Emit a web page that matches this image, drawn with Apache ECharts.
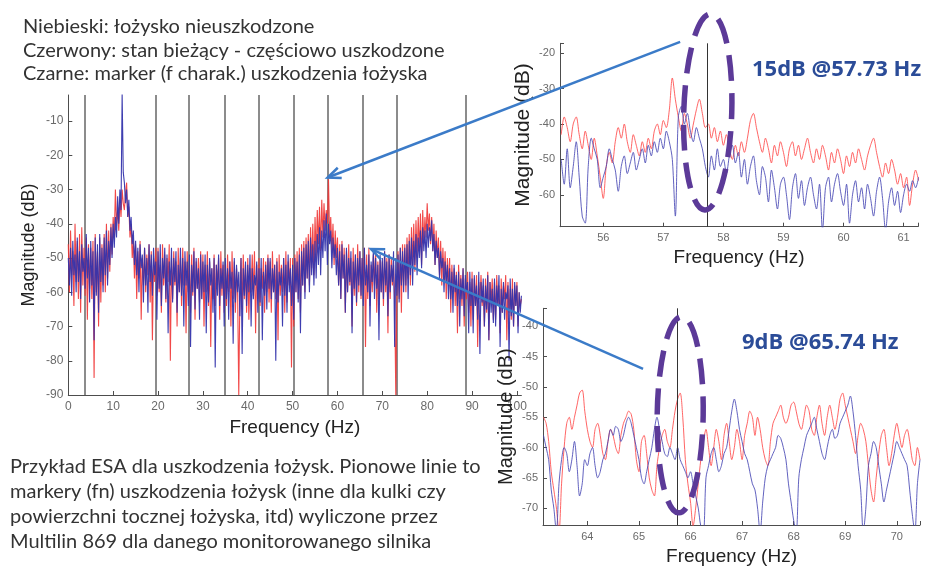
<!DOCTYPE html>
<html>
<head>
<meta charset="utf-8">
<script src="https://cdn.jsdelivr.net/npm/echarts@6/dist/echarts.min.js"></script>
<style>
  html, body { margin: 0; padding: 0; background: #ffffff; }
  #c { width: 925px; height: 568px; }
</style>
</head>
<body>
<div id="c"></div>
<script>
// ---- Spectrum, 0 .. 101 Hz, 0.25 Hz bins (one row = 5 Hz) ----
const MAIN_F0 = 0, MAIN_DF = 0.25;
// healthy bearing (blue)
const mainBlue = [
  -50,-58,-47,-61,-45,-55,-49,-60,-44,-57,-48,-62,-46,-54,-50,-59,-43,-56,-47,-63,
  -45,-58,-48,-74,-44,-61,-46,-66,-43,-57,-47,-60,-44,-55,-42,-58,-45,-52,-41,-50,
  -40,-47,-38,-44,-32,-40,-30,-36,-2,-25,-28,-34,-30,-38,-33,-42,-38,-46,-42,-52,
  -45,-55,-47,-60,-46,-53,-49,-63,-47,-58,-50,-66,-46,-57,-49,-61,-47,-55,-51,-68,
  -48,-59,-46,-64,-50,-56,-47,-62,-49,-72,-51,-58,-47,-63,-50,-57,-48,-66,-52,-60,
  -47,-61,-50,-70,-48,-58,-51,-64,-49,-76,-52,-60,-48,-65,-50,-59,-53,-68,-49,-62,
  -51,-60,-49,-72,-52,-63,-50,-58,-53,-66,-50,-82,-52,-61,-49,-64,-53,-59,-51,-70,
  -50,-62,-53,-68,-51,-59,-54,-75,-50,-63,-52,-60,-54,-67,-50,-78,-53,-61,-51,-64,
  -52,-60,-49,-70,-53,-62,-55,-58,-51,-66,-53,-63,-50,-74,-54,-61,-52,-65,-50,-59,
  -50,-62,-53,-60,-52,-80,-51,-63,-54,-58,-53,-70,-50,-61,-52,-66,-49,-60,-53,-64,
  -52,-68,-50,-60,-51,-63,-49,-72,-48,-58,-47,-62,-46,-56,-45,-60,-44,-55,-46,-58,
  -45,-56,-43,-52,-41,-55,-42,-50,-39,-48,-37,-52,-40,-46,-42,-53,-44,-50,-46,-55,
  -47,-58,-48,-62,-46,-56,-49,-66,-47,-60,-50,-57,-48,-72,-51,-59,-49,-63,-50,-58,
  -48,-61,-50,-64,-47,-58,-52,-60,-49,-70,-51,-57,-48,-62,-50,-59,-52,-74,-49,-60,
  -50,-62,-48,-58,-51,-67,-49,-60,-52,-57,-48,-76,-50,-61,-49,-63,-47,-58,-48,-60,
  -47,-58,-46,-62,-45,-55,-44,-58,-45,-52,-43,-55,-44,-50,-42,-53,-41,-48,-42,-50,
  -40,-47,-41,-45,-39,-48,-43,-52,-45,-50,-47,-56,-48,-53,-50,-60,-51,-57,-52,-62,
  -53,-62,-54,-66,-52,-60,-55,-64,-54,-70,-56,-62,-53,-67,-55,-60,-57,-72,-54,-64,
  -56,-72,-55,-64,-58,-68,-54,-78,-57,-63,-56,-70,-58,-65,-55,-74,-57,-66,-59,-69,
  -56,-70,-58,-64,-55,-76,-59,-66,-57,-68,-60,-62,-58,-80,-56,-67,-59,-70,-57,-64,
  -58,-72,-60,-66,-61
];
// current state, partially damaged (red)
const mainRed = [
  -46,-60,-42,-55,-48,-64,-40,-57,-45,-62,-43,-66,-41,-58,-47,-61,-44,-68,-46,-59,
  -47,-62,-45,-85,-43,-60,-48,-70,-44,-63,-46,-58,-43,-60,-40,-56,-42,-54,-40,-49,
  -38,-44,-30,-40,-36,-42,-33,-38,-30,-34,-36,-31,-28,-38,-35,-44,-40,-50,-45,-56,
  -46,-62,-48,-56,-45,-68,-50,-58,-47,-60,-49,-55,-46,-63,-48,-74,-50,-57,-47,-61,
  -47,-60,-52,-66,-46,-58,-49,-63,-50,-57,-46,-80,-50,-62,-48,-58,-51,-70,-47,-60,
  -50,-64,-47,-58,-51,-72,-48,-60,-52,-66,-49,-61,-47,-68,-51,-59,-50,-63,-48,-62,
  -49,-70,-52,-60,-48,-64,-51,-76,-53,-62,-49,-64,-52,-58,-50,-68,-48,-61,-52,-66,
  -52,-64,-49,-60,-51,-70,-48,-62,-51,-66,-53,-61,-90,-60,-50,-65,-49,-62,-52,-66,
  -50,-68,-53,-60,-49,-61,-48,-72,-52,-62,-50,-64,-53,-59,-50,-66,-51,-60,-49,-63,
  -51,-66,-48,-60,-52,-62,-50,-74,-49,-61,-52,-60,-50,-66,-48,-63,-51,-58,-50,-82,
  -50,-70,-49,-60,-48,-62,-47,-66,-46,-58,-45,-60,-44,-56,-43,-58,-41,-53,-40,-55,
  -38,-50,-36,-46,-35,-48,-33,-44,-34,-42,-36,-40,-27,-44,-38,-48,-40,-52,-42,-50,
  -44,-58,-46,-62,-45,-56,-47,-66,-48,-60,-46,-58,-50,-70,-47,-61,-49,-64,-46,-60,
  -48,-62,-50,-58,-47,-76,-49,-62,-47,-64,-52,-60,-49,-58,-48,-66,-51,-62,-50,-60,
  -51,-64,-48,-60,-50,-72,-49,-62,-50,-58,-52,-62,-90,-60,-48,-62,-47,-66,-46,-58,
  -46,-60,-44,-56,-43,-58,-41,-52,-40,-54,-39,-50,-38,-48,-37,-52,-36,-46,-38,-44,
  -34,-42,-37,-46,-38,-48,-40,-52,-42,-50,-44,-55,-45,-58,-47,-56,-48,-62,-50,-58,
  -50,-66,-52,-60,-53,-64,-54,-72,-52,-62,-55,-64,-53,-70,-56,-62,-54,-66,-57,-70,
  -54,-68,-56,-64,-55,-76,-57,-62,-55,-64,-58,-70,-56,-66,-54,-74,-57,-63,-56,-68,
  -57,-68,-55,-64,-58,-72,-56,-66,-58,-62,-55,-74,-57,-66,-59,-68,-56,-70,-58,-64,
  -57,-70,-60,-64,-62
];
// bearing fault marker frequencies (Hz)
const faultMarkers = [3.7, 19.5, 26.9, 34.9, 42.4, 50.3, 57.73, 65.74, 73.2, 88.7];
// tick values of the overview axes
const mainFreqTicks = [0, 10, 20, 30, 40, 50, 60, 70, 80, 90, 100];
const mainDbTicks = [-90, -80, -70, -60, -50, -40, -30, -20, -10];

// ---- Zoom around 57.73 Hz, 0.05 Hz bins ----
const Z1_F0 = 55.30, Z1_DF = 0.05;
const zoom1Blue = [
  -50,-57,-47,-58,-52,-45,-55,-66,-68,-52,
  -44,-47,-50,-58,-55,-52,-47,-50,-53,-59,
  -52,-49,-54,-51,-48,-53,-50,-47,-51,-46,
  -49,-45,-48,-44,-47,-42,-45,-50,-66,-38,
  -35,-40,-37,-42,-45,-41,-44,-47,-52,-55,
  -49,-53,-47,-52,-50,-54,-49,-46,-51,-48,
  -55,-50,-57,-52,-49,-56,-60,-52,-55,-62,
  -53,-58,-64,-57,-55,-60,-67,-58,-54,-61,
  -56,-63,-58,-55,-60,-64,-57,-70,-58,-55,
  -62,-57,-54,-59,-63,-57,-68,-60,-56,-62,
  -58,-64,-57,-61,-66,-59,-55,-61,-70,-62,
  -58,-63,-59,-65,-60,-57,-59,-56,-58,-55
];
const zoom1Red = [
  -43,-38,-41,-45,-40,-38,-43,-47,-42,-46,
  -50,-44,-49,-55,-61,-52,-48,-51,-45,-41,
  -44,-40,-45,-48,-43,-46,-49,-45,-48,-44,
  -47,-42,-40,-43,-39,-41,-36,-27,-33,-38,
  -42,-37,-40,-44,-40,-36,-33,-37,-41,-40,
  -44,-41,-45,-42,-46,-43,-47,-50,-46,-49,
  -45,-48,-44,-39,-37,-41,-45,-48,-44,-47,
  -51,-46,-49,-45,-48,-52,-47,-45,-49,-46,
  -50,-47,-44,-48,-51,-47,-50,-46,-49,-53,
  -48,-51,-47,-50,-54,-49,-52,-48,-51,-47,
  -50,-53,-49,-46,-44,-48,-52,-55,-51,-54,
  -50,-53,-57,-54,-58,-55,-63,-57,-53,-56
];

// ---- Zoom around 65.74 Hz, 0.05 Hz bins ----
const Z2_F0 = 63.15, Z2_DF = 0.05;
const zoom2Blue = [
  -58,-60,-62,-67,-70,-74,-66,-62,-60,-61,
  -64,-62,-59,-63,-68,-66,-62,-63,-61,-60,
  -63,-65,-64,-62,-61,-59,-57,-58,-56.5,-57,
  -59,-58,-56,-55,-56,-58,-60,-62,-65,-66,
  -64,-62,-60,-57,-55,-57,-59,-61,-61.5,-60,
  -61,-62,-60,-62,-63,-64,-65,-64,-66,-68,
  -70,-73,-74,-65,-63,-61,-60,-62,-64,-63,
  -61,-60,-57,-54,-52,-54,-57,-59,-61,-62,
  -64,-66,-67,-70,-74,-69,-65,-63,-62,-61,
  -60,-58,-58.5,-60,-62,-66,-69,-72,-74,-65,
  -62,-60,-58,-57,-56,-55,-57,-59,-61,-62,
  -60,-58,-57,-58.5,-58,-56,-55,-54,-53,-51.5,
  -54,-58,-63,-67,-74,-70,-63,-61,-59,-60,
  -63,-66,-69,-67,-65,-63,-61,-59,-60,-61,
  -62,-63,-67,-71,-74,-66,-62
];
const zoom2Red = [
  -55,-56,-59,-64,-67,-70,-74,-66,-60,-56,
  -55,-57,-55,-53,-51,-50.5,-54,-57,-59,-60,
  -57,-56,-58,-61,-62,-59,-57,-58,-60,-61,
  -58,-56,-55,-54,-54.5,-57,-62,-64,-59,-58,
  -61,-65,-67,-68,-63,-60,-58,-57,-59,-60,
  -57,-54,-52,-51,-55,-62,-66,-69,-73,-70,
  -66,-62,-59,-57,-60,-63,-60,-57,-59,-62,
  -58,-56,-59,-62,-60,-57,-59,-62,-58,-56,
  -54,-55,-58,-55,-57,-60,-62,-63,-59,-56,
  -55,-54,-53,-55,-56,-55,-53,-52.5,-54,-56,
  -57,-55,-53,-54,-57,-58,-55,-53,-56,-58,
  -55,-53,-55,-57,-55,-52,-51,-53,-55,-57,
  -59,-61,-58,-56,-57,-59,-63,-67,-69,-65,
  -61,-58,-57,-60,-63,-61,-58,-56,-58,-60,
  -58,-57,-59,-62,-63,-60,-62
];

// ---- Texts ----
const legendLines = [
  'Niebieski: łożysko nieuszkodzone',
  'Czerwony: stan bieżący - częściowo uszkodzone',
  'Czarne: marker (f charak.) uszkodzenia łożyska'
];
const captionLines = [
  'Przykład ESA dla uszkodzenia łożysk. Pionowe linie to',
  'markery (fn) uszkodzenia łożysk (inne dla kulki czy',
  'powierzchni tocznej łożyska, itd) wyliczone przez',
  'Multilin 869 dla danego monitorowanego silnika'
];
const zoom1Note = '15dB @57.73 Hz';
const zoom2Note = '9dB @65.74 Hz';
const magTitle = 'Magnitude (dB)';

const RED = '#f03434';
const BLUE = '#3434ac';
const AXIS_FONT = '"Liberation Sans", Arial, sans-serif';

const toPairs = (vals, f0, df) => vals.map((v, i) => [+(f0 + i * df).toFixed(3), v]);
// only label whole steps, leave the axis ends blank
const stepLabel = step => v => (Math.abs(v / step - Math.round(v / step)) < 1e-6 ? String(Math.round(v)) : '');

function axisCfg(kind, grid, min, max, extra, nameGap, nameSize, labelSize, step) {
  const cfg = {
    type: 'value', gridIndex: grid, min, max,
    name: extra.noName ? '' : (kind === 'x' ? 'Frequency (Hz)' : magTitle),
    nameLocation: 'middle', nameGap,
    nameTextStyle: { color: '#222', fontSize: nameSize, fontFamily: AXIS_FONT },
    axisLine: { show: true, onZero: false, lineStyle: { color: '#4d4d4d', width: 1 } },
    axisTick: { show: true, inside: true, length: 4, lineStyle: { color: '#4d4d4d' } },
    axisLabel: {
      color: '#6a6a6a', fontSize: labelSize, fontFamily: AXIS_FONT,
      margin: kind === 'x' ? 6 : 5, hideOverlap: false, formatter: stepLabel(step)
    },
    splitLine: { show: false }
  };
  if (extra.ticks) {
    cfg.axisTick.customValues = extra.ticks;
    cfg.axisLabel.customValues = extra.ticks;
    cfg.axisLabel.showMinLabel = true;
    cfg.axisLabel.showMaxLabel = true;
  } else {
    cfg.splitNumber = extra.splitNumber;
  }
  return cfg;
}

function spectrum(name, data, xi, color, width, opacity, z, smooth) {
  return {
    type: 'line', name, xAxisIndex: xi, yAxisIndex: xi, data,
    symbol: 'none', smooth: smooth || false, z,
    lineStyle: { color, width, opacity },
    clip: true, silent: true
  };
}

const chart = echarts.init(document.getElementById('c'), null, { renderer: 'canvas' });

chart.setOption({
  animation: false,
  backgroundColor: '#ffffff',
  grid: [
    { left: 68.3, top: 95, width: 453.1, height: 300 },
    { left: 560, top: 43.3, width: 358, height: 183.4 },
    { left: 543, top: 308.3, width: 377, height: 216.7 }
  ],
  xAxis: [
    axisCfg('x', 0, 0, 101, { ticks: mainFreqTicks }, 20, 19, 12, 10),
    axisCfg('x', 1, 55.28, 61.24, { splitNumber: 5 }, 22, 19, 11, 1),
    axisCfg('x', 2, 63.14, 70.45, { splitNumber: 6 }, 22, 19, 11, 1)
  ],
  yAxis: [
    axisCfg('y', 0, -90, -2.4, { ticks: mainDbTicks }, 30, 18, 12, 10),
    axisCfg('y', 1, -69, -17.2, { splitNumber: 5 }, 26, 21, 11, 10),
    // its title sits over the overview's frequency labels, drawn separately below
    axisCfg('y', 2, -72.8, -37, { splitNumber: 7, noName: true }, 26, 20, 11, 5)
  ],
  series: [
    Object.assign(spectrum('mainRed', toPairs(mainRed, MAIN_F0, MAIN_DF), 0, RED, 1.1, 0.9, 2), {
      markLine: {
        silent: true, z: 1, symbol: ['none', 'none'], label: { show: false },
        lineStyle: { color: '#8c8c8c', width: 2, type: 'solid', opacity: 1 },
        data: faultMarkers.map(f => ({ xAxis: f }))
      }
    }),
    spectrum('mainBlue', toPairs(mainBlue, MAIN_F0, MAIN_DF), 0, BLUE, 1.1, 0.95, 3),
    Object.assign(spectrum('zoom1Red', toPairs(zoom1Red, Z1_F0, Z1_DF), 1, '#ff4a4a', 1, 0.85, 2, 0.3), {
      markLine: {
        silent: true, symbol: ['none', 'none'], label: { show: false },
        lineStyle: { color: '#333', width: 1, type: 'solid', opacity: 1 },
        data: [{ xAxis: 57.73 }]
      }
    }),
    spectrum('zoom1Blue', toPairs(zoom1Blue, Z1_F0, Z1_DF), 1, '#4646b4', 1, 0.85, 3, 0.3),
    Object.assign(spectrum('zoom2Red', toPairs(zoom2Red, Z2_F0, Z2_DF), 2, '#ff4a4a', 1, 0.85, 2, 0.3), {
      markLine: {
        silent: true, symbol: ['none', 'none'], label: { show: false },
        lineStyle: { color: '#333', width: 1, type: 'solid', opacity: 1 },
        data: [{ xAxis: 65.74 }]
      }
    }),
    spectrum('zoom2Blue', toPairs(zoom2Blue, Z2_F0, Z2_DF), 2, '#4646b4', 1, 0.85, 3, 0.3)
  ]
});

// ---- Annotations anchored to axis coordinates ----
const px = (grid, pt) => chart.convertToPixel({ gridIndex: grid }, pt);
const ARROW = '#3b7bc8';
const PURPLE = '#5c3a98';

function arrow(from, to) {
  const dx = to[0] - from[0], dy = to[1] - from[1];
  const len = Math.hypot(dx, dy), ux = dx / len, uy = dy / len;
  const hl = 13, hw = 5.5;
  const bx = to[0] - ux * hl, by = to[1] - uy * hl;
  return [
    { type: 'line', z: 50, shape: { x1: from[0], y1: from[1], x2: to[0], y2: to[1] },
      style: { stroke: ARROW, lineWidth: 2.5 } },
    { type: 'polyline', z: 50, shape: { points: [[bx - uy * hw, by + ux * hw], to, [bx + uy * hw, by - ux * hw]] },
      style: { stroke: ARROW, lineWidth: 2.5, fill: null } }
  ];
}
function ring(center, rx, ry, rot) {
  return {
    type: 'ellipse', z: 40, x: center[0], y: center[1], rotation: rot,
    shape: { cx: 0, cy: 0, rx, ry },
    style: { fill: null, stroke: PURPLE, lineWidth: 5.5, lineDash: [26, 12] }
  };
}
function textLine(str, x, y, font, fill, align) {
  return { type: 'text', z: 60, x, y, style: { text: str, font, fill, align: align || 'left', verticalAlign: 'middle' } };
}

const graphics = [];
const CAP_FONT = '20px Lato, "Open Sans", sans-serif';
legendLines.forEach((t, i) => graphics.push(textLine(t, 23, 27 + i * 23.5, CAP_FONT, '#333')));
captionLines.forEach((t, i) => graphics.push(textLine(t, 10, 467 + i * 24.7, CAP_FONT, '#333')));
graphics.push(textLine(zoom1Note, 752, 70, 'bold 22px "Open Sans", sans-serif', '#2b4c98'));
graphics.push(textLine(zoom2Note, 742, 343, 'bold 22px "Open Sans", sans-serif', '#2b4c98'));

// vertical title of the lower zoom panel
const z2Left = px(2, [63.14, -54.9]);
graphics.push({
  type: 'text', z: 20, x: z2Left[0] - 37, y: z2Left[1], rotation: Math.PI / 2,
  style: { text: magTitle, font: '20px ' + AXIS_FONT, fill: '#222', align: 'center', verticalAlign: 'middle' }
});

graphics.push(ring(px(1, [57.74, -36.6]), 24, 98, -0.03));
graphics.push(ring(px(2, [65.80, -54.6]), 23, 98, -0.015));
arrow(px(1, [57.28, -16.8]), px(0, [57.8, -26.5])).forEach(g => graphics.push(g));
arrow(px(2, [65.08, -47.0]), px(0, [67.5, -47.4])).forEach(g => graphics.push(g));

chart.setOption({ graphic: graphics });
</script>
</body>
</html>
